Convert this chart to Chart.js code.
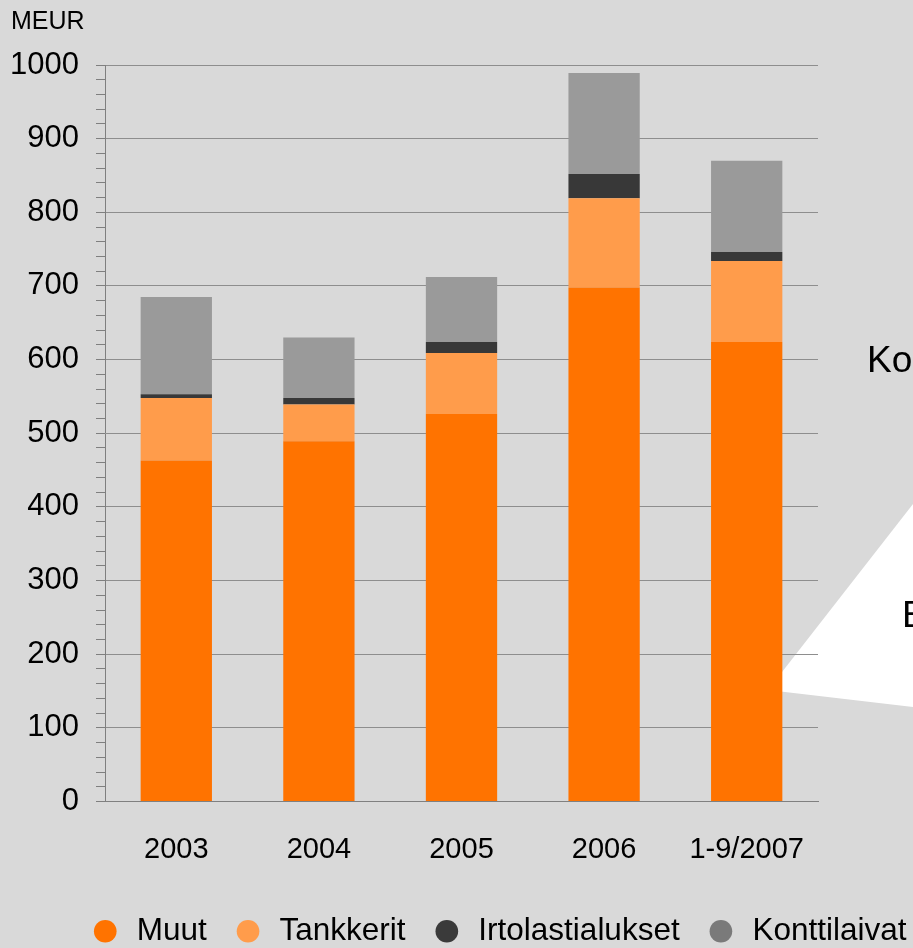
<!DOCTYPE html>
<html>
<head>
<meta charset="utf-8">
<script src="https://cdn.jsdelivr.net/npm/chart.js@4"></script>
<style>
  html, body { margin: 0; padding: 0; background: #d9d9d9; }
  #wrap { width: 913px; height: 948px; position: relative; }
</style>
</head>
<body>
<div id="wrap"><canvas id="chart"></canvas></div>
<script>
// ======= data =======
const categories = ['2003', '2004', '2005', '2006', '1-9/2007'];
const muut = [463, 489, 526, 698, 624];
const tankkerit = [85, 50, 83, 121, 110];
const irtolasti = [5, 9, 15, 33, 12];
const kontti = [132, 82, 88, 137, 124];

const seriesNames = ['Muut', 'Tankkerit', 'Irtolastialukset', 'Konttilaivat'];
const barColors = ['#ff7300', '#ff9c4b', '#383838', '#9a9a9a'];
const legendColors = ['#ff7300', '#ff9c4b', '#3a3a3a', '#7a7a7a'];

const fontFamily = '"Liberation Sans", Arial, sans-serif';

// white callout behind the plot (cut off at right edge)
const callout = {
  id: 'callout',
  beforeDraw(chart) {
    const ctx = chart.ctx;
    ctx.save();
    ctx.fillStyle = '#ffffff';
    ctx.beginPath();
    ctx.moveTo(913, 504);
    ctx.lineTo(768, 690);
    ctx.lineTo(913, 707);
    ctx.closePath();
    ctx.fill();
    ctx.fillStyle = '#000';
    ctx.font = '37px ' + fontFamily;
    ctx.textBaseline = 'alphabetic';
    ctx.fillText('Ko', 867, 372);
    ctx.fillText('E', 902, 627);
    ctx.restore();
  }
};

new Chart(document.getElementById('chart'), {
  type: 'bar',
  data: {
    labels: categories,
    datasets: [muut, tankkerit, irtolasti, kontti].map((d, i) => ({
      label: seriesNames[i],
      data: d,
      backgroundColor: barColors[i],
      borderWidth: 0,
      barPercentage: 0.5,
      categoryPercentage: 1
    }))
  },
  options: {
    responsive: true,
    maintainAspectRatio: false,
    animation: false,
    // negative right padding lets the centred legend sit where the original one is
    layout: { padding: { left: 11, right: -72, top: 0, bottom: -9 } },
    plugins: {
      title: {
        display: true,
        text: 'MEUR',
        align: 'start',
        color: '#000',
        font: { family: fontFamily, size: 25, weight: 'normal' },
        padding: { top: 7.5, bottom: 27.5 }
      },
      legend: {
        position: 'bottom',
        align: 'center',
        labels: {
          color: '#000',
          font: { family: fontFamily, size: 31.5 },
          usePointStyle: true,
          pointStyle: 'circle',
          boxHeight: 16,
          boxWidth: 31.5,
          padding: 25.5,
          generateLabels(chart) {
            const items = Chart.defaults.plugins.legend.labels.generateLabels(chart);
            items.forEach((it, i) => {
              it.fillStyle = legendColors[i];
              it.strokeStyle = legendColors[i];
              it.lineWidth = 0;
            });
            return items;
          }
        }
      },
      tooltip: { enabled: false }
    },
    scales: {
      x: {
        stacked: true,
        grid: { display: false, drawTicks: false },
        border: { display: true, color: '#808080', width: 1 },
        ticks: {
          color: '#000',
          padding: 31,
          font: { family: fontFamily, size: 29 }
        },
        afterFit(s) { s.height = 88.5; }
      },
      y: {
        stacked: true,
        min: 0,
        max: 1000,
        grid: {
          color: c => (c.tick && c.tick.value % 100 === 0 && c.tick.value > 0) ? '#8e8e8e' : 'transparent',
          tickColor: '#7f7f7f',
          tickLength: 9,
          lineWidth: 1
        },
        border: { display: true, color: '#7f7f7f', width: 1 },
        ticks: {
          stepSize: 20,
          autoSkip: false,
          color: '#000',
          padding: 17,
          font: { family: fontFamily, size: 31 },
          callback: v => (v % 100 === 0 ? v : '')
        },
        afterFit(s) { s.width = 94; }
      },
      pad: {
        type: 'linear',
        position: 'right',
        display: true,
        grid: { display: false, drawTicks: false },
        border: { display: false },
        ticks: { display: false },
        afterFit(s) { s.width = 167; }
      }
    }
  },
  plugins: [callout]
});
</script>
</body>
</html>
